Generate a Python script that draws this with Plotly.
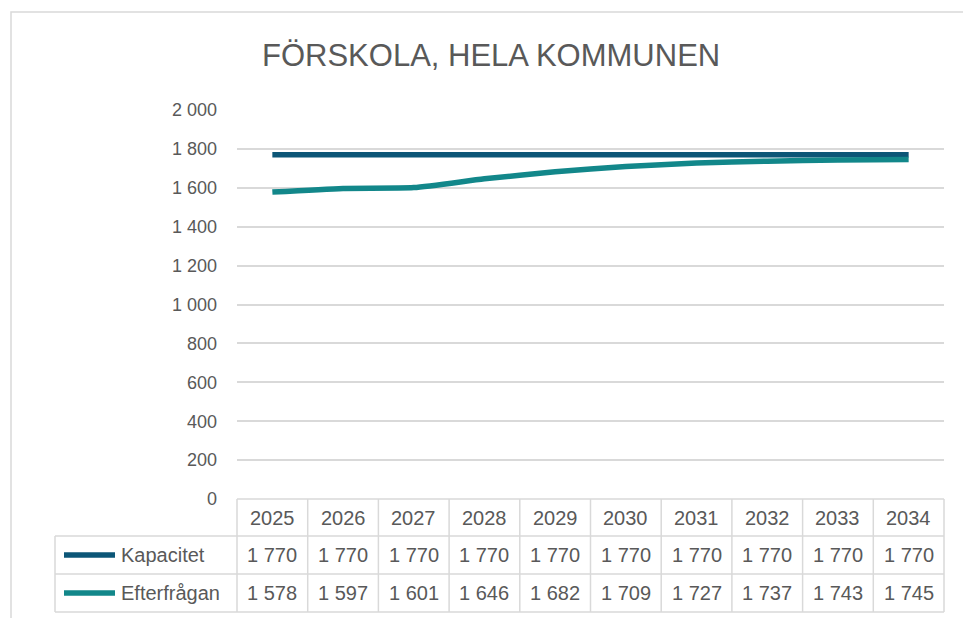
import plotly.graph_objects as go

years = [2025, 2026, 2027, 2028, 2029, 2030, 2031, 2032, 2033, 2034]
kapacitet = [1770, 1770, 1770, 1770, 1770, 1770, 1770, 1770, 1770, 1770]
efterfragan = [1578, 1597, 1601, 1646, 1682, 1709, 1727, 1737, 1743, 1745]
series_names = ["Kapacitet", "Efterfrågan"]
series_colors = ["#0C5677", "#12878A"]
y_ticks = [0, 200, 400, 600, 800, 1000, 1200, 1400, 1600, 1800, 2000]
title_text = "FÖRSKOLA, HELA KOMMUNEN"

W, H = 963, 618
L, R, T, B = 237, 19, 110, 119
PW = W - L - R
PH = H - T - B

def px_x(p):
    return (p - L) / PW

def px_y(p):
    return (H - B - p) / PH

FONT = "Liberation Sans"
GRID = "#D9D9D9"
TXT = "#595959"

def fmt(v):
    return f"{v:,}".replace(",", " ")

fig = go.Figure()
for name, vals, col in zip(series_names, [kapacitet, efterfragan], series_colors):
    fig.add_trace(go.Scatter(
        x=years, y=vals, name=name, mode="lines",
        line=dict(color=col, width=5.5, shape="spline", smoothing=0.6),
        showlegend=False, hoverinfo="skip",
    ))

shapes = []
annotations = []

# outer chart frame
shapes.append(dict(type="rect", xref="paper", yref="paper",
                   x0=px_x(11), x1=px_x(990), y0=px_y(640), y1=px_y(12),
                   line=dict(color=GRID, width=1.5), layer="below"))

# table geometry (pixel rows)
row_lines = [499, 536, 574, 612]
row_centers = [517.5, 555, 593]
tbl_left = 55
n = len(years)
shapes.append(dict(type="line", xref="paper", yref="paper",
                   x0=0, x1=1, y0=px_y(row_lines[0]), y1=px_y(row_lines[0]),
                   line=dict(color=GRID, width=1.5)))
for rl in row_lines[1:]:
    shapes.append(dict(type="line", xref="paper", yref="paper",
                       x0=px_x(tbl_left), x1=1, y0=px_y(rl), y1=px_y(rl),
                       line=dict(color=GRID, width=1.5)))
for i in range(n + 1):
    shapes.append(dict(type="line", xref="paper", yref="paper",
                       x0=i / n, x1=i / n, y0=px_y(row_lines[0]), y1=px_y(row_lines[-1]),
                       line=dict(color=GRID, width=1.5)))
shapes.append(dict(type="line", xref="paper", yref="paper",
                   x0=px_x(tbl_left), x1=px_x(tbl_left),
                   y0=px_y(row_lines[1]), y1=px_y(row_lines[-1]),
                   line=dict(color=GRID, width=1.5)))

# header years
for yr in years:
    annotations.append(dict(x=yr, xref="x", y=px_y(row_centers[0]), yref="paper",
                            text=str(yr), showarrow=False, xanchor="center", yanchor="middle",
                            font=dict(family=FONT, size=20, color=TXT)))
# rows
for r, (name, vals, col) in enumerate(zip(series_names, [kapacitet, efterfragan], series_colors)):
    yc = px_y(row_centers[r + 1])
    shapes.append(dict(type="line", xref="paper", yref="paper",
                       x0=px_x(64), x1=px_x(115), y0=yc, y1=yc,
                       line=dict(color=col, width=5.5)))
    annotations.append(dict(x=px_x(119), xref="paper", y=yc, yref="paper",
                            text=name, showarrow=False, xanchor="left", yanchor="middle",
                            font=dict(family=FONT, size=20, color=TXT)))
    for yr, v in zip(years, vals):
        annotations.append(dict(x=yr, xref="x", y=yc, yref="paper",
                                text=fmt(v), showarrow=False, xanchor="center", yanchor="middle",
                                font=dict(family=FONT, size=20, color=TXT)))

# title
annotations.append(dict(x=px_x(491), xref="paper", y=px_y(56), yref="paper",
                        text=title_text, showarrow=False, xanchor="center", yanchor="middle",
                        font=dict(family=FONT, size=31, color=TXT)))

fig.update_layout(
    width=W, height=H,
    margin=dict(l=L, r=R, t=T, b=B, autoexpand=False),
    paper_bgcolor="white", plot_bgcolor="white",
    separators=", ",
    hovermode=False,
    shapes=shapes, annotations=annotations,
    xaxis=dict(range=[years[0] - 0.5, years[-1] + 0.5], showgrid=False, zeroline=False,
               showticklabels=False, showline=False, fixedrange=True),
    yaxis=dict(range=[0, 2000], tickvals=y_ticks, tickformat=",d",
               showgrid=True, gridcolor=GRID, gridwidth=1.5, zeroline=False, showline=False,
               tickfont=dict(family=FONT, size=18, color=TXT), ticklabelstandoff=19,
               fixedrange=True),
)

fig.write_html("out.html", config={"displayModeBar": False},
               post_script="document.body.style.margin='0';document.body.style.overflow='hidden';")
